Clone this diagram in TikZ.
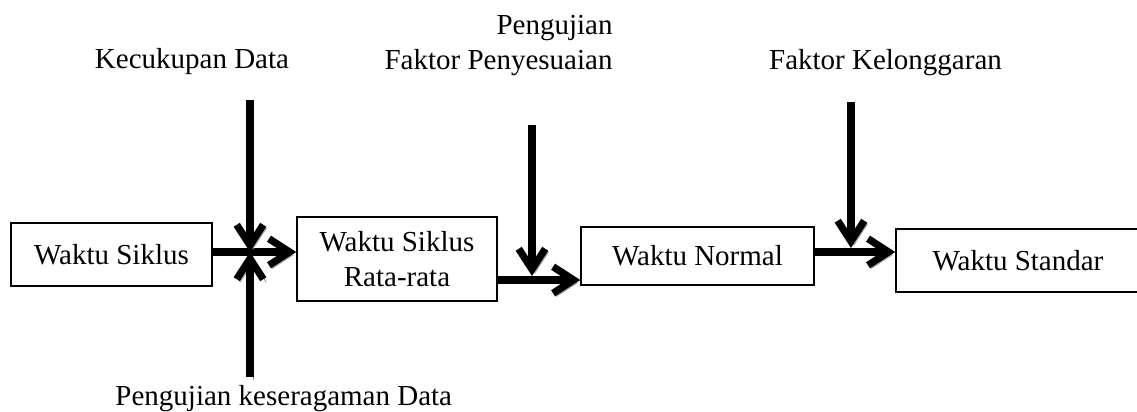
\documentclass[tikz,border=0pt]{standalone}
\usepackage{fontspec}
\setmainfont{Liberation Serif}
\usetikzlibrary{arrows.meta}
\begin{document}
\begin{tikzpicture}[x=0.4138pt,y=-0.4138pt,
  font=\fontsize{12}{14.4}\selectfont,
  kotak/.style={draw,line width=0.6pt,inner sep=0pt,align=center},
  teks/.style={inner sep=0pt},
  panah/.style={line width=3pt,-{Straight Barb[length=8.5pt,width=11pt]},
    preaction={draw=black!38,transform canvas={xshift=1.3pt,yshift=-1.3pt}}}]
\useasboundingbox (0,0) rectangle (1137,412);
% kotak proses
\node[kotak,minimum width=83.2pt,minimum height=26.1pt] (siklus) at (111.5,254.5) {Waktu Siklus};
\node[kotak,minimum width=82.8pt,minimum height=34.8pt] (rata) at (397,259) {Waktu Siklus\\Rata-rata};
\node[kotak,minimum width=96.4pt,minimum height=24pt] (normal) at (697.5,256) {Waktu Normal};
\node[kotak,minimum width=101pt,minimum height=26.1pt] (standar) at (1018,260.5) {Waktu Standar};
% keterangan
\node[teks,anchor=base] (cukup) at (192,68) {Kecukupan Data};
\node[teks,anchor=base east,align=right] (sesuai) at (613,69) {Pengujian\\Faktor Penyesuaian};
\node[teks,anchor=base] (longgar) at (885.5,69) {Faktor Kelonggaran};
\node[teks,anchor=base west] (seragam) at (115,405) {Pengujian keseragaman Data};
% ujung panah
\coordinate (atas1) at (250,100);
\coordinate (bawah1) at (250,377);
\coordinate (atas2) at (532,125);
\coordinate (atas3) at (851,102);
\coordinate (p1) at (250,252);
\coordinate (p2) at (532,276);
\coordinate (p3) at (851,248);
\draw[panah] (siklus.east |- 0,252) -- (rata.west |- 0,252);
\draw[panah] (rata.east |- 0,280) -- (normal.west |- 0,280);
\draw[panah] (normal.east |- 0,252) -- (standar.west |- 0,252);
\draw[panah] (atas1) -- (p1);
\draw[panah] (bawah1) -- (p1);
\draw[panah] (atas2) -- (p2);
\draw[panah] (atas3) -- (p3);
\end{tikzpicture}
\end{document}
